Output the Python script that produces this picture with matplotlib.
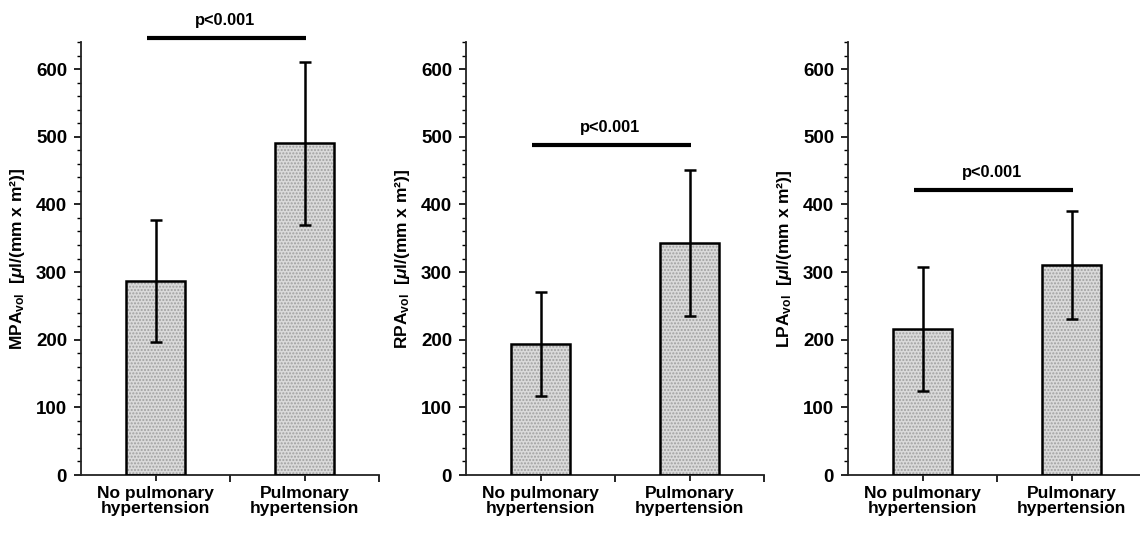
import matplotlib
matplotlib.use("Agg")
import matplotlib.pyplot as plt
from matplotlib.ticker import MultipleLocator

# values (means and SD)
groups = ["No pulmonary\nhypertension", "Pulmonary\nhypertension"]
vessels = ["MPA", "RPA", "LPA"]
means = [[287, 490], [194, 343], [216, 310]]
sds = [[90, 121], [77, 108], [92, 80]]
pvals = ["p<0.001", "p<0.001", "p<0.001"]
sig_levels = [646, 488, 421]

plt.rcParams['font.family'] = ['Liberation Sans', 'DejaVu Sans']
plt.rcParams['font.weight'] = 'bold'
plt.rcParams['mathtext.fontset'] = 'custom'
plt.rcParams['mathtext.rm'] = 'Liberation Sans:bold'
plt.rcParams['mathtext.it'] = 'Liberation Sans:italic:bold'
plt.rcParams['mathtext.bf'] = 'Liberation Sans:bold'

fig = plt.figure(figsize=(11.4, 5.41), dpi=100)
lefts = [81, 466, 848]
W, H = 1140, 541

for k in range(3):
    ax = fig.add_axes([lefts[k] / W, 66 / H, 298 / W, 433 / H])
    x = [0.5, 1.5]
    # textured grey fill first, black outline on top
    ax.bar(x, means[k], width=0.4, color='#dadada', hatch='.....',
           edgecolor='#a0a0a0', linewidth=0, zorder=2)
    ax.bar(x, means[k], width=0.4, color='none', edgecolor='black',
           linewidth=1.8, zorder=3)
    ax.errorbar(x, means[k], yerr=sds[k], fmt='none', ecolor='black',
                elinewidth=1.8, capsize=4, capthick=1.8, zorder=4)

    # significance bar
    ax.plot([0.44, 1.51], [sig_levels[k]] * 2, color='black', lw=3,
            clip_on=False, solid_capstyle='butt', zorder=5)
    ax.text(0.97, sig_levels[k] + 15, pvals[k], ha='center', va='bottom',
            fontsize=11.8, fontweight='bold')

    ax.set_xlim(0, 2)
    ax.set_ylim(0, 640)
    ax.yaxis.set_major_locator(MultipleLocator(100))
    ax.yaxis.set_minor_locator(MultipleLocator(20))
    ax.set_xticks(x)
    ax.set_xticklabels(groups, fontsize=12.5, fontweight='bold', linespacing=1.0)
    ax.set_xticks([1.0, 2.0], minor=True)
    ax.tick_params(axis='x', which='major', length=4, width=1.2, pad=4)
    ax.tick_params(axis='x', which='minor', length=5, width=1.2)
    ax.tick_params(axis='y', which='major', length=5, width=1.2,
                   labelsize=13.5, pad=5)
    ax.tick_params(axis='y', which='minor', length=3, width=1.0)
    for lab in ax.get_yticklabels():
        lab.set_fontweight('bold')

    for side in ['top', 'right']:
        ax.spines[side].set_visible(False)
    for side in ['left', 'bottom']:
        ax.spines[side].set_linewidth(1.3)
        ax.spines[side].set_color('#222222')

    ax.set_ylabel(vessels[k] + r'$_{\mathregular{vol}}$  [$\mathit{\mu}$l/(mm x m²)]',
                  fontsize=12.5, fontweight='bold')
    ax.yaxis.set_label_coords(-0.18, 0.5)

fig.savefig("out.png", dpi=100)
